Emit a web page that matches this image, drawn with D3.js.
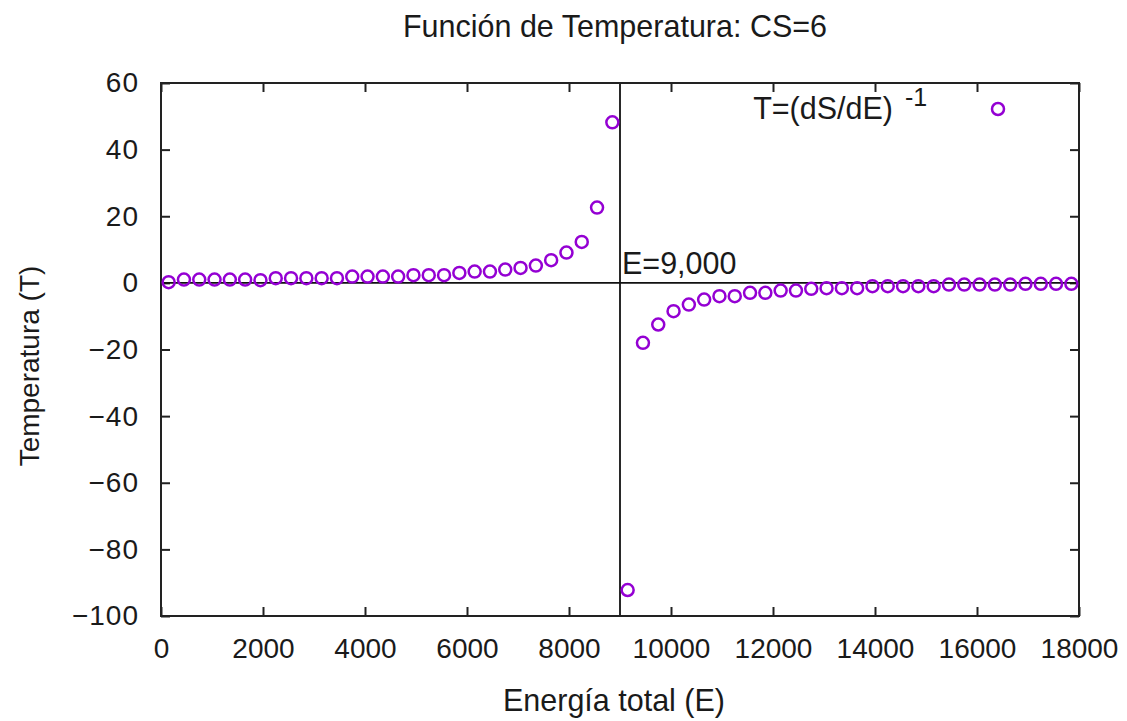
<!DOCTYPE html>
<html>
<head>
<meta charset="utf-8">
<script src="https://cdn.jsdelivr.net/npm/d3@7"></script>
<style>
body{margin:0;background:#fff;}
text{font-family:"Liberation Sans",Arial,sans-serif;fill:#1a1a1a;}
</style>
</head>
<body>
<svg width="1127" height="721"></svg>
<script>
// energia (E) y temperatura (T)
var energia = [150,450,750,1050,1350,1650,1950,2250,2550,2850,3150,3450,3750,4050,4350,4650,4950,5250,5550,5850,6150,6450,6750,7050,7350,7650,7950,8250,8550,8850,
	9150,9450,9750,10050,10350,10650,10950,11250,11550,11850,12150,12450,12750,13050,13350,13650,13950,14250,14550,14850,15150,15450,15750,16050,16350,16650,16950,17250,17550,17850];
var temperatura = [0.2,1.0,1.0,1.0,1.0,1.0,0.8,1.4,1.4,1.4,1.4,1.4,1.9,1.9,1.9,1.9,2.3,2.3,2.3,3.0,3.4,3.4,4.0,4.5,5.2,6.8,9.1,12.3,22.6,48.2,
	-92.2,-18.0,-12.5,-8.5,-6.5,-5.0,-4.0,-4.0,-3.0,-3.0,-2.3,-2.3,-1.8,-1.6,-1.6,-1.6,-1.0,-1.0,-1.0,-1.0,-1.0,-0.5,-0.5,-0.5,-0.5,-0.5,-0.3,-0.3,-0.3,-0.3];
var xticks = [0,2000,4000,6000,8000,10000,12000,14000,16000,18000];
var yticks = [60,40,20,0,-20,-40,-60,-80,-100];
var ecrit = 9000;

var titulo = 'Función de Temperatura: CS=6';
var xlabel = 'Energía total (E)';
var ylabel = 'Temperatura (T)';

var svg = d3.select('svg');
var width = +svg.attr('width'), height = +svg.attr('height');
var margin = {left:161,right:48,top:83,bottom:105};
var innerwidth = width - margin.left - margin.right;
var innerheight = height - margin.top - margin.bottom;
var color = '#9400d3';
var fs = 28, fs2 = 30.5;

var data = energia.map((e,i) => ({e:e, t:temperatura[i]}));

var xscale = d3.scaleLinear().domain([0,18000]).range([0,innerwidth]);
var yscale = d3.scaleLinear().domain([-100,60]).range([innerheight,0]);

var g = svg.append('g').attr('transform',`translate(${margin.left},${margin.top})`);

// ejes con ticks hacia dentro (como gnuplot, tambien en espejo)
var tk = 9;
var axB = g.append('g').attr('transform',`translate(0,${innerheight})`)
	.call(d3.axisBottom(xscale).tickValues(xticks).tickSizeInner(-tk).tickSizeOuter(0).tickPadding(22).tickFormat(d3.format('d')));
var axT = g.append('g')
	.call(d3.axisTop(xscale).tickValues(xticks).tickSizeInner(-tk).tickSizeOuter(0).tickFormat(''));
var axL = g.append('g')
	.call(d3.axisLeft(yscale).tickValues(yticks).tickSizeInner(-tk).tickSizeOuter(0).tickPadding(22).tickFormat(d3.format('d')));
var axR = g.append('g').attr('transform',`translate(${innerwidth},0)`)
	.call(d3.axisRight(yscale).tickValues(yticks).tickSizeInner(-tk).tickSizeOuter(0).tickFormat(''));

[axB,axT,axL,axR].forEach(a => {
	a.select('.domain').remove();
	a.selectAll('line').attr('stroke','#222').attr('stroke-width',2);
	a.selectAll('text').style('font-size',fs+'px').attr('fill','#1a1a1a').style('font-family','"Liberation Sans",Arial,sans-serif');
});
axL.selectAll('text').style('letter-spacing','1px');

// lineas T=0 y E=9000
g.append('line').attr('x1',0).attr('x2',innerwidth).attr('y1',yscale(0)).attr('y2',yscale(0))
	.attr('stroke','#111').attr('stroke-width',1.8);
g.append('line').attr('x1',xscale(ecrit)).attr('x2',xscale(ecrit)).attr('y1',0).attr('y2',innerheight)
	.attr('stroke','#111').attr('stroke-width',1.8);
g.append('text').attr('x',xscale(ecrit)+2).attr('y',yscale(0)-9)
	.style('font-size',fs2+'px').text('E=9,000');

// marco
g.append('rect').attr('width',innerwidth).attr('height',innerheight)
	.attr('fill','none').attr('stroke','#222').attr('stroke-width',2);

// puntos
g.append('g').selectAll('circle').data(data)
	.enter()
	.append('circle')
	.attr('cx',d => xscale(d.e))
	.attr('cy',d => yscale(d.t))
	.attr('r',6)
	.attr('fill','none')
	.attr('stroke',color)
	.attr('stroke-width',2.5);

// leyenda
var leg = svg.append('g');
leg.append('text').attr('x',893).attr('y',119).attr('text-anchor','end').style('font-size',fs2+'px').text('T=(dS/dE)');
leg.append('text').attr('x',905).attr('y',106).style('font-size','25px').text('-1');
leg.append('circle').attr('cx',998).attr('cy',109).attr('r',6)
	.attr('fill','none').attr('stroke',color).attr('stroke-width',2.5);

// titulos
svg.append('text').attr('x',615).attr('y',37).attr('text-anchor','middle').style('font-size',fs2+'px').text(titulo);
svg.append('text').attr('x',614).attr('y',711).attr('text-anchor','middle').style('font-size',fs2+'px').text(xlabel);
svg.append('text').attr('transform','translate(39,366) rotate(-90)').attr('text-anchor','middle').style('font-size',fs+'px').text(ylabel);
</script>
</body>
</html>
